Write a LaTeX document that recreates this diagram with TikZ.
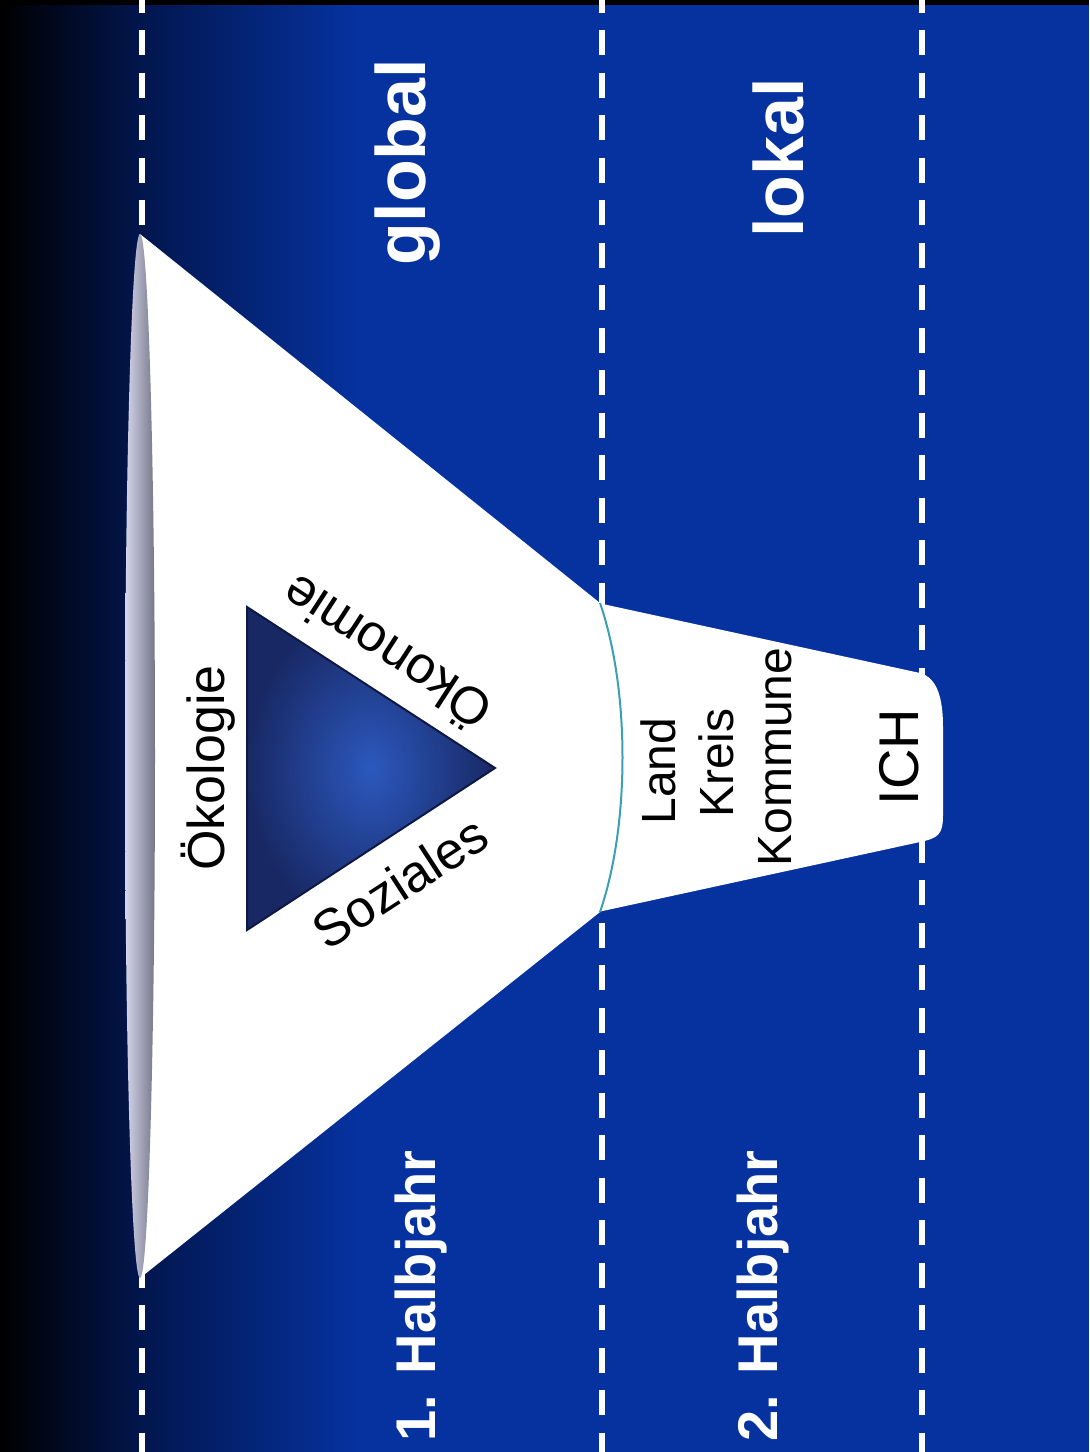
\documentclass[tikz,border=0pt]{standalone}
\usepackage{fontspec}
\setmainfont{Liberation Sans}
\definecolor{bgblue}{RGB}{6,50,160}
\definecolor{bgnavy}{RGB}{2,22,78}
\definecolor{rimlight}{RGB}{214,214,236}
\definecolor{rimdark}{RGB}{118,118,138}
\definecolor{trilight}{RGB}{44,88,190}
\definecolor{tridark}{RGB}{24,40,100}
\definecolor{triedge}{RGB}{14,24,66}
\definecolor{seam}{RGB}{60,160,180}

\begin{document}
\begin{tikzpicture}[
  x=0.5pt, y=-0.5pt,
  every node/.style={inner sep=0pt, outer sep=0pt},
  toplabel/.style={text=white, font=\fontsize{35}{42}\selectfont\bfseries, rotate=90},
  termlabel/.style={text=white, font=\fontsize{28}{34}\selectfont\bfseries, rotate=90},
  pillar/.style={font=\fontsize{26}{31}\selectfont},
  levellabel/.style={font=\fontsize{24}{29}\selectfont, rotate=90},
  sepline/.style={white, line width=3pt, dash pattern=on 12.5pt off 8.75pt},
  funnel/.style={fill=white}
]
\useasboundingbox (0,0) rectangle (1089,1452);

% Background
\fill[bgblue] (0,0) rectangle (1089,1452);
\shade[left color=black, right color=bgnavy] (0,0) rectangle (142,1452);
\shade[left color=bgnavy, right color=bgblue] (142,0) rectangle (360,1452);
\fill[black] (0,0) rectangle (1089,5);
\foreach \x in {142,602,922}
  \draw[sepline] (\x,-12.5) -- (\x,1460);

% Funnel
\fill[funnel] (140,234) -- (600,603) -- (600,912) -- (140,1278) -- cycle;
\fill[funnel] (598,603) -- (920,673) .. controls (938,678) and (943,700) .. (943,727)
  -- (943,815) .. controls (943,835) and (938,838) .. (920,842) -- (598,912) -- cycle;
\shade[left color=rimlight, right color=rimdark] (140,756) ellipse [x radius=15, y radius=522];
\draw[seam, line width=1pt] (600,603) .. controls (630,690) and (630,825) .. (600,912);

% Triangle
\shade[inner color=trilight, outer color=tridark, draw=triedge, line width=1pt]
  (247,607) -- (495,768) -- (247,930) -- cycle;

% Nodes
\node[toplabel] (global) at (408,162) {global};
\node[toplabel] (lokal) at (778,158) {lokal};
\node[termlabel] (half1) at (421,1296) {1. Halbjahr};
\node[termlabel] (half2) at (763,1296) {2. Halbjahr};

\node[pillar, rotate=90] (oekologie) at (208,768) {Ökologie};
\node[pillar, rotate=147] (oekonomie) at (385,655) {Ökonomie};
\node[pillar, rotate=33] (soziales) at (400,882) {Soziales};

\node[levellabel] (land) at (658,771) {Land};
\node[levellabel] (kreis) at (716,763) {Kreis};
\node[levellabel] (kommune) at (775,757) {Kommune};
\node[levellabel, font=\fontsize{28}{34}\selectfont] (ich) at (899,757) {ICH};

\end{tikzpicture}
\end{document}
